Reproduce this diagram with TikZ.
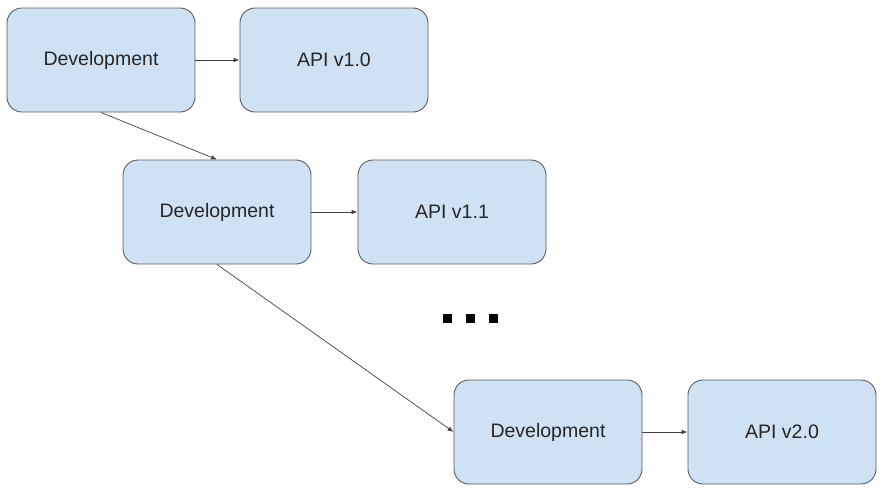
\documentclass[tikz,border=0pt]{standalone}
\usepackage{fontspec}
\setmainfont{Liberation Sans}
\usetikzlibrary{arrows.meta}
\definecolor{boxfill}{RGB}{207,226,243}
\definecolor{boxline}{RGB}{90,90,90}
\tikzset{
  stage/.style={draw=boxline,fill=boxfill,rounded corners=15pt,line width=0.9pt,
    minimum width=188pt,minimum height=104pt,font=\fontsize{19.5}{22}\selectfont,text=black!85},
  link/.style={draw=black!75,line width=0.7pt,-{Latex[length=6pt,width=4.5pt]}}
}
\begin{document}
\begin{tikzpicture}[x=1pt,y=-1pt]
      \useasboundingbox (0,0) rectangle (883,493);
      \node[stage] (dev1) at (101,60) {Development};
      \node[stage] (api1) at (334,60) {API v1.0};
      \node[stage] (dev2) at (217,212) {Development};
      \node[stage] (api2) at (452,212) {API v1.1};
      \node[stage] (dev3) at (548,432) {Development};
      \node[stage] (api3) at (782,432) {API v2.0};
      \draw[link] (dev1) -- (api1);
      \draw[link] (dev2) -- (api2);
      \draw[link] (dev3) -- (api3);
      \draw[link] (dev1.south) -- (dev2.north);
      \draw[link] (dev2.south) -- (dev3.west);
      \foreach \x in {447,470,493}
        \fill (\x-4.5,313.5) rectangle (\x+4.5,322.5);
     \end{tikzpicture}
\end{document}
